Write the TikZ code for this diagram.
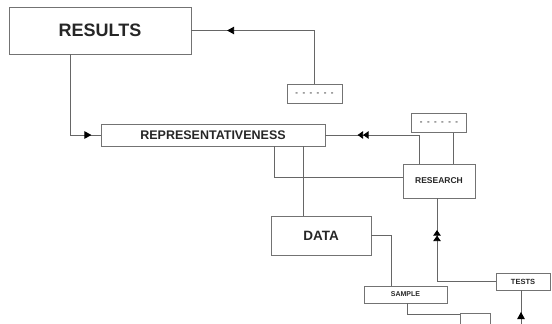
\documentclass[tikz,border=0pt]{standalone}
\usepackage{fontspec}
\setmainfont{Liberation Sans}
\usetikzlibrary{arrows.meta,decorations.markings}

\tikzset{
    box/.style={draw=black!55, line width=0.8pt, inner sep=0pt, text=black!85, font=\bfseries},
    conn/.style={draw=black!60, line width=0.8pt},
    tip/.style={postaction={decorate}, decoration={markings, mark=at position #1 with {\arrow[black]{Triangle[length=7pt,width=7.5pt]}}}},
    tiptwo/.style={postaction={decorate}, decoration={markings, mark=at position #1 with {\arrow[black]{Triangle[length=5.5pt,width=7.5pt] Triangle[length=5.5pt,width=7.5pt]}}}}
}

\begin{document}
\begin{tikzpicture}[x=1pt, y=-1pt]
            \useasboundingbox (0,0) rectangle (552,324);
            \clip (0,0) rectangle (552,324);

            % Nodi
            \foreach \name/\x/\y/\w/\h/\s/\txt in {results/100/30.5/182/47/18/RESULTS, repr/213/135/224/22/12.5/REPRESENTATIVENESS, research/439/181/72/34/8.5/RESEARCH, data/321/235.5/100/39/13.5/DATA, sample/405.5/294.5/83/17/7/SAMPLE, tests/523/281.5/54/17/7.5/TESTS} {
                    \node[box, minimum width=\w pt, minimum height=\h pt, font=\fontsize{\s}{\s}\selectfont\bfseries] (\name) at (\x,\y) {\txt};
                }
            \foreach \name/\x/\y in {dots1/314.5/94, dots2/439/123} {
                    \node[box, minimum width=55pt, minimum height=19pt, font=\fontsize{8}{8}\selectfont\bfseries, text=black!70] (\name) at (\x,\y) {-~~-~~-~~-~~-~~-};
                }
            \node[box, minimum width=30pt, minimum height=30pt] (low) at (475.5,328) {};

            % Punti di appoggio
            \coordinate (rd) at (303,135);
            \coordinate (rr) at (274,135);
            \coordinate (end) at (521,330);

            % Archi
            \draw[conn, tip=141pt] (dots1.north) |- (results.east);
            \draw[conn, tip=102pt] ([xshift=-30pt]results.south) |- (repr.west);
            \draw[conn, tiptwo=90pt] ([xshift=-20pt]research.north) |- (repr.east);
            \draw[conn] ([xshift=14pt]dots2.south) -- ([xshift=14pt]research.north);
            \draw[conn] (rr |- repr.south) |- ([yshift=4pt]research.west);
            \draw[conn] (rd |- repr.south) -- (rd |- data.north);
            \draw[conn] (data.east) -| ([xshift=-14.5pt]sample.north);
            \draw[conn, tiptwo=110pt] (tests.west) -| ([xshift=-2pt]research.south);
            \draw[conn, tip=18pt] (end) -- (end |- tests.south);
            \draw[conn] ([xshift=1.5pt]sample.south) |- ([yshift=-2pt]low.north west);
        \end{tikzpicture}
\end{document}
